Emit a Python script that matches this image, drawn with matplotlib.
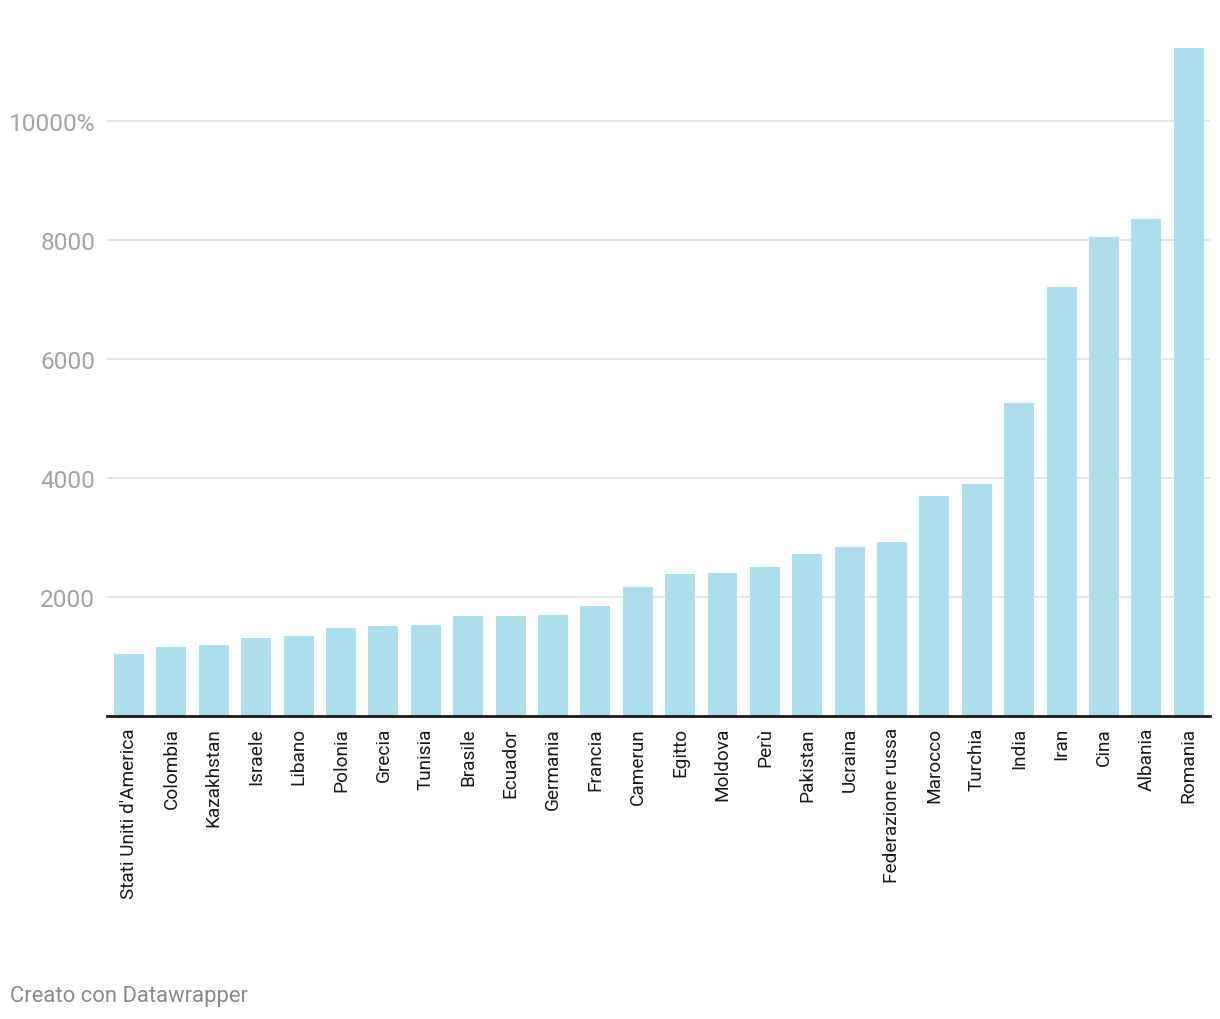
import matplotlib
matplotlib.use("Agg")
import matplotlib.pyplot as plt
import numpy as np

plt.rcParams['font.family'] = ['Roboto', 'DejaVu Sans']

countries = ["Stati Uniti d'America", "Colombia", "Kazakhstan", "Israele", "Libano",
             "Polonia", "Grecia", "Tunisia", "Brasile", "Ecuador", "Germania", "Francia",
             "Camerun", "Egitto", "Moldova", "Perù", "Pakistan", "Ucraina",
             "Federazione russa", "Marocco", "Turchia", "India", "Iran", "Cina",
             "Albania", "Romania"]
values = [1042, 1160, 1193, 1311, 1345, 1479, 1513, 1529, 1681, 1681, 1697, 1849,
          2168, 2387, 2403, 2504, 2723, 2840, 2924, 3697, 3899, 5261, 7210, 8050,
          8353, 11227]
yticks = [2000, 4000, 6000, 8000, 10000]
ytick_labels = ["2000", "4000", "6000", "8000", "10000%"]

fig = plt.figure(figsize=(12.2, 10.2), dpi=100)
ax = fig.add_axes([107 / 1220, 1 - 717 / 1020, (1210 - 107) / 1220, (717 - 41) / 1020])

x = np.arange(len(countries))
ax.bar(x, values, width=0.707, color="#afdeeb", zorder=2)

ax.set_xlim(-0.52, len(countries) - 0.5)
ax.set_ylim(0, 11361)

# grid
ax.set_yticks(yticks)
ax.set_yticklabels(ytick_labels, fontsize=17.6, color="#a3a3a3")
ax.yaxis.grid(True, color="#e3e3e3", linewidth=1.3, zorder=0)
ax.tick_params(axis="y", length=0, pad=8.5)

ax.set_xticks(x)
ax.set_xticklabels(countries, rotation=90, fontsize=13.7, color="#1a1a1a", va="top")
ax.tick_params(axis="x", length=0, pad=8)

for s in ["top", "right", "left"]:
    ax.spines[s].set_visible(False)
ax.spines["bottom"].set_color("#1a1a1a")
ax.spines["bottom"].set_linewidth(2)
ax.spines["bottom"].set_zorder(3)

fig.text(10 / 1220, 1 - 997 / 1020, "Creato con Datawrapper", fontsize=15.8,
         color="#8a8a8a", va="center", ha="left")

fig.savefig("out.png", dpi=100)
